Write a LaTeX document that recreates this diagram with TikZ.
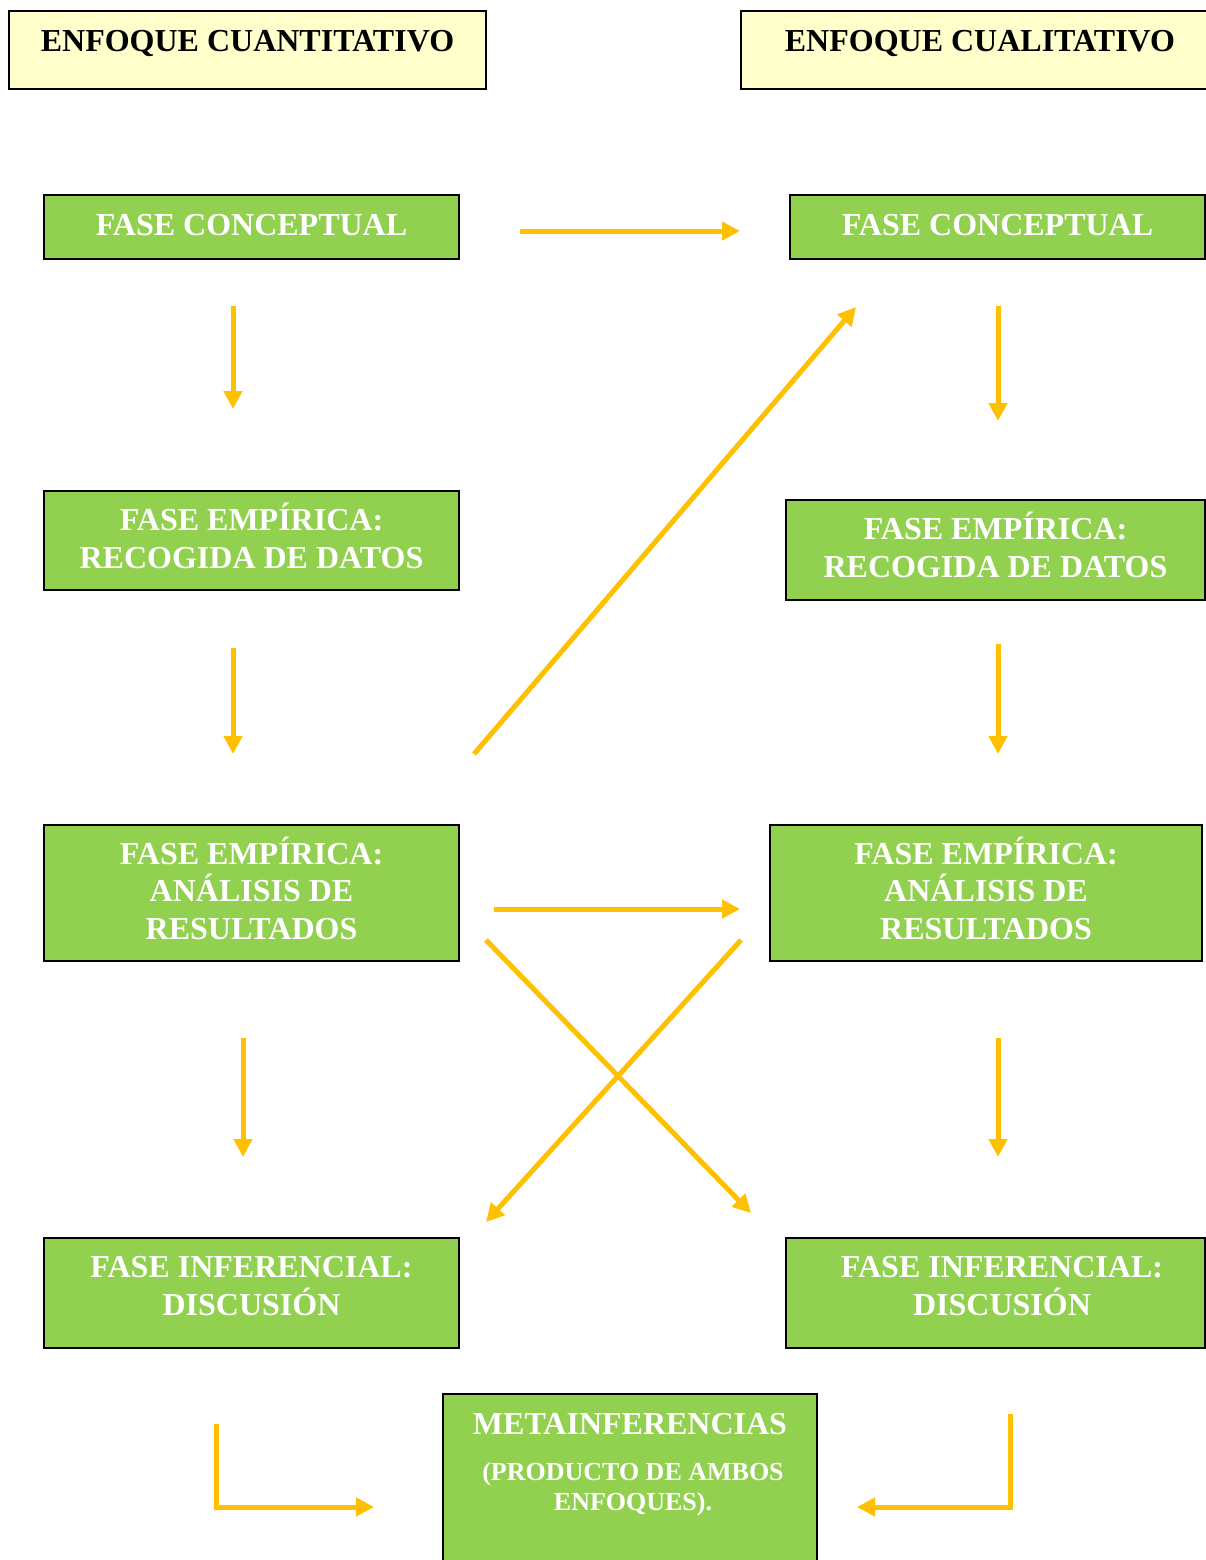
\documentclass[tikz,border=0pt]{standalone}
\usepackage{fontspec}
\setmainfont{Liberation Serif}
\usetikzlibrary{arrows.meta}
\definecolor{boxgreen}{HTML}{92D050}
\definecolor{boxcream}{HTML}{FFFFCC}
\definecolor{flow}{HTML}{FFC000}
\begin{document}
\begin{tikzpicture}[x=1pt,y=-1pt,
  head/.style={draw=black, line width=2pt, fill=boxcream, inner sep=0pt,
    text=black, text height=41pt, text depth=37pt,
    font=\fontsize{32}{37}\selectfont\bfseries},
  phase/.style={draw=black, line width=2pt, fill=boxgreen, inner sep=0pt,
    text=white, align=center, font=\fontsize{32}{37.5}\selectfont\bfseries},
  metatxt/.style={text=white, inner sep=0pt, align=center},
  flowarrow/.style={draw=flow, line width=5pt, line join=miter,
    -{Triangle[length=18pt,width=18pt]}},
]
\path[use as bounding box] (0,0) rectangle (1206,1560);
\clip (0,0) rectangle (1206,1560);

% headers
\node[head, minimum width=477pt] (hq) at (247.5,50) {ENFOQUE CUANTITATIVO};
\node[head, minimum width=478pt] (hc) at (980,50) {ENFOQUE CUALITATIVO};

% quantitative column (text height runs from the top edge to the last baseline)
\node[phase, minimum width=415pt, text height=40pt, text depth=24pt] (q1) at (251.5,227) {FASE CONCEPTUAL};
\node[phase, minimum width=415pt, text height=77pt, text depth=22pt] (q2) at (251.5,540.5) {FASE EMPÍRICA:\\RECOGIDA DE DATOS};
\node[phase, minimum width=415pt, text height=114pt, text depth=22pt] (q3) at (251.5,893) {FASE EMPÍRICA:\\ANÁLISIS DE\\RESULTADOS};
\node[phase, minimum width=415pt, text height=77pt, text depth=33pt] (q4) at (251.5,1293) {FASE INFERENCIAL:\\DISCUSIÓN};

% qualitative column
\node[phase, minimum width=415pt, text height=40pt, text depth=24pt] (c1) at (997.5,227) {FASE CONCEPTUAL};
\node[phase, minimum width=419pt, text height=77pt, text depth=23pt] (c2) at (995.5,550) {FASE EMPÍRICA:\\RECOGIDA DE DATOS};
\node[phase, minimum width=432pt, text height=114pt, text depth=22pt] (c3) at (986,893) {FASE EMPÍRICA:\\ANÁLISIS DE\\RESULTADOS};
\node[phase, minimum width=419pt, text height=77pt, text depth=33pt] (c4) at (995.5,1293) {\hspace*{13pt}FASE INFERENCIAL:\\\hspace*{13pt}DISCUSIÓN};

% merged result
\node[phase, minimum width=374pt, minimum height=210pt] (meta) at (630,1499) {};
\node[metatxt, font=\fontsize{32}{37}\selectfont\bfseries] (metat) at (630,1424) {METAINFERENCIAS};
\node[metatxt, font=\fontsize{26}{30}\selectfont\bfseries] (metas) at (633,1489) {(PRODUCTO DE AMBOS\\ENFOQUES).};

% arrow end points
\coordinate (a1s) at (520,231);  \coordinate (a1e) at (740,231);
\coordinate (a2s) at (233,306);  \coordinate (a2e) at (233,409);
\coordinate (a3s) at (998,306);  \coordinate (a3e) at (998,421);
\coordinate (a4s) at (233,648);  \coordinate (a4e) at (233,754);
\coordinate (a5s) at (474,754);  \coordinate (a5e) at (856,307);
\coordinate (a6s) at (998,644);  \coordinate (a6e) at (998,754);
\coordinate (a7s) at (494,909);  \coordinate (a7e) at (740,909);
\coordinate (a8s) at (486,940);  \coordinate (a8e) at (751,1213);
\coordinate (a9s) at (741,940);  \coordinate (a9e) at (486,1222);
\coordinate (a10s) at (243,1038); \coordinate (a10e) at (243,1157);
\coordinate (a11s) at (998,1038); \coordinate (a11e) at (998,1157);
\coordinate (a12s) at (216,1424); \coordinate (a12c) at (216,1507); \coordinate (a12e) at (374,1507);
\coordinate (a13s) at (1010,1414); \coordinate (a13c) at (1010,1507); \coordinate (a13e) at (857,1507);

% flow arrows
\draw[flowarrow] (a1s) -- (a1e);
\draw[flowarrow] (a2s) -- (a2e);
\draw[flowarrow] (a3s) -- (a3e);
\draw[flowarrow] (a4s) -- (a4e);
\draw[flowarrow] (a5s) -- (a5e);
\draw[flowarrow] (a6s) -- (a6e);
\draw[flowarrow] (a7s) -- (a7e);
\draw[flowarrow] (a8s) -- (a8e);
\draw[flowarrow] (a9s) -- (a9e);
\draw[flowarrow] (a10s) -- (a10e);
\draw[flowarrow] (a11s) -- (a11e);
\draw[flowarrow] (a12s) -- (a12c) -- (a12e);
\draw[flowarrow] (a13s) -- (a13c) -- (a13e);
\end{tikzpicture}
\end{document}
